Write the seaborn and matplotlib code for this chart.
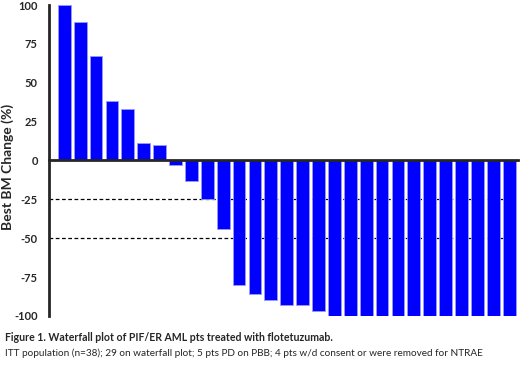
import matplotlib
matplotlib.use("Agg")
import matplotlib.pyplot as plt
import seaborn as sns
import pandas as pd

# ---------------------------
# Data: best BM change per patient (sorted waterfall)
# ---------------------------
patients = list(range(1, 30))
bm_change = [100, 89, 67, 38, 33, 11, 10, -3, -13, -25, -44, -80, -86, -90,
             -93, -93, -97, -100, -100, -100, -100, -100, -100, -100, -100,
             -100, -100, -100, -100]
y_ticks = [100, 75, 50, 25, 0, -25, -50, -75, -100]
ref_lines = [-25, -50]

caption_title = "Figure 1. Waterfall plot of PIF/ER AML pts treated with flotetuzumab."
caption_text = ("ITT population (n=38); 29 on waterfall plot; 5 pts PD on PBB; "
                "4 pts w/d consent or were removed for NTRAE")

df = pd.DataFrame({"patient": patients, "change": bm_change})

sns.set_style("white")
plt.rcParams['font.family'] = ['Lato', 'DejaVu Sans']

fig = plt.figure(figsize=(5.2, 3.66), dpi=100)
ax = fig.add_axes([0.094, 0.137, 0.902, 0.849])

sns.barplot(data=df, x="patient", y="change", color="#0000ff",
            saturation=1, width=0.8, edgecolor="#9a9aff", linewidth=0.6,
            ax=ax)

for y in ref_lines:
    ax.axhline(y, color="black", linestyle=(0, (3, 2)), linewidth=0.9,
               zorder=0.5)

ax.set_ylim(-100, 100)
ax.set_xlim(-0.97, 28.55)
ax.set_yticks(y_ticks)
ax.set_yticklabels([str(t) for t in y_ticks], fontweight="bold", fontsize=8)
ax.set_ylabel("Best BM Change (%)", fontweight="bold", fontsize=10)
ax.yaxis.set_label_coords(-0.074, 0.48)
ax.set_xlabel("")
ax.set_xticklabels([])

for s in ["top", "right"]:
    ax.spines[s].set_visible(False)
ax.spines["left"].set_linewidth(2)
ax.spines["bottom"].set_position(("data", 0))
ax.spines["bottom"].set_linewidth(2)
ax.spines["bottom"].set_zorder(3)
ax.tick_params(axis="y", length=6, width=1.6, color="black", pad=2)
ax.tick_params(axis="x", length=2, width=0.6, color="#777777", direction="out")

fig.text(0.01, 0.068, caption_title, fontweight="bold", fontsize=7.6)
fig.text(0.01, 0.027, caption_text, fontsize=7.2)

fig.savefig("out.png", dpi=100)
